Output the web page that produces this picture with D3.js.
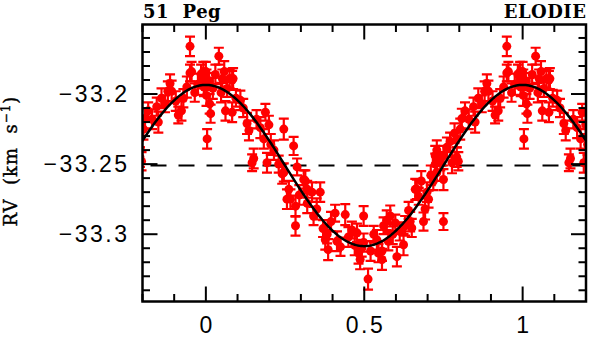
<!DOCTYPE html>
<html><head><meta charset="utf-8">
<script src="https://cdn.jsdelivr.net/npm/d3@7"></script>
<style>body{margin:0;background:#fff}svg{display:block}</style>
</head><body>
<svg id="c" width="600" height="343"></svg>
<script>
// ---- data (orbital phase, radial velocity km/s, error km/s) ----
const phase = [0.000,0.002,0.002,0.004,0.010,0.012,0.015,0.022,0.030,0.041,0.048,0.052,0.058,0.062,0.067,0.075,0.083,0.086,0.083,0.095,
0.109,0.118,0.130,0.136,0.146,0.151,0.160,0.172,0.183,0.188,0.193,0.199,0.205,0.215,0.230,0.241,0.246,0.246,0.256,0.262,
0.267,0.277,0.283,0.283,0.288,0.295,0.309,0.314,0.320,0.320,0.335,0.340,0.350,0.361,0.370,0.377,0.383,0.386,0.395,0.408,
0.414,0.425,0.440,0.450,0.461,0.470,0.477,0.482,0.487,0.492,0.498,0.498,0.512,0.520,0.530,0.540,0.545,0.556,0.556,0.561,
0.571,0.576,0.582,0.590,0.598,0.603,0.612,0.624,0.629,0.640,0.645,0.650,0.661,0.666,0.672,0.680,0.687,0.692,0.698,0.703,
0.710,0.718,0.724,0.724,0.729,0.729,0.740,0.750,0.750,0.750,0.761,0.771,0.777,0.785,0.792,0.792,0.797,0.803,0.808,0.818,
0.830,0.845,0.850,0.860,0.871,0.880,0.887,0.892,0.905,0.913,0.923,0.929,0.940,0.950,0.950,0.955,0.965,0.975,0.985,0.991,
0.992,0.994];
const rv = [-33.184,-33.189,-33.201,-33.232,-33.191,-33.207,-33.214,-33.196,-33.186,-33.173,-33.199,-33.189,-33.184,-33.212,-33.196,-33.189,-33.190,-33.189,-33.213,-33.203,
-33.2045,-33.210,-33.221,-33.226,-33.249,-33.246,-33.218,-33.224,-33.232,-33.213,-33.249,-33.222,-33.236,-33.240,-33.250,-33.257,-33.256,-33.225,-33.275,-33.268,
-33.275,-33.237,-33.280,-33.294,-33.252,-33.272,-33.261,-33.262,-33.278,-33.268,-33.270,-33.287,-33.282,-33.270,-33.296,-33.304,-33.300,-33.311,-33.291,-33.285,
-33.305,-33.309,-33.286,-33.302,-33.297,-33.308,-33.299,-33.3135,-33.318,-33.310,-33.287,-33.306,-33.332,-33.312,-33.300,-33.304,-33.3135,-33.318,-33.312,-33.294,
-33.290,-33.305,-33.287,-33.300,-33.292,-33.316,-33.298,-33.3075,-33.294,-33.283,-33.291,-33.2955,-33.268,-33.268,-33.273,-33.262,-33.291,-33.282,-33.270,-33.275,
-33.258,-33.262,-33.250,-33.244,-33.256,-33.240,-33.248,-33.261,-33.244,-33.291,-33.238,-33.234,-33.249,-33.228,-33.232,-33.245,-33.248,-33.225,-33.2175,-33.212,
-33.218,-33.209,-33.220,-33.203,-33.207,-33.198,-33.1925,-33.198,-33.205,-33.215,-33.212,-33.203,-33.195,-33.166,-33.185,-33.184,-33.199,-33.193,-33.186,-33.190,
-33.184,-33.195];
const err = phase.map((p,i)=>[0.007,0.0065,0.0075,0.007,0.006][i%5]);
// orbital fit parameters (systemic velocity, semi-amplitude)
const gamma = -33.251, K = 0.0575;
const xTicksMajor = [0, 0.5, 1];
const yTicksMajor = [-33.3, -33.25, -33.2];
const xLabels = ["0","0.5","1"];
const yLabels = ["\u221233.3","\u221233.25","\u221233.2"];

// ---- layout ----
const svg = d3.select("#c");
const L=142.5, R=586, T=24.5, B=301.5;
const x = d3.scaleLinear().domain([-0.2,1.2]).range([L,R]);
const y = d3.scaleLinear().domain([-33.348,-33.1504]).range([B,T]);

svg.append("clipPath").attr("id","clip").append("rect")
  .attr("x",L).attr("y",T).attr("width",R-L).attr("height",B-T);

const plot = svg.append("g").attr("clip-path","url(#clip)");

// dashed systemic line
plot.append("line").attr("x1",L).attr("x2",R).attr("y1",y(gamma)).attr("y2",y(gamma))
  .attr("stroke","#000").attr("stroke-width",2).attr("stroke-dasharray","16,12").attr("stroke-dashoffset",-8);

// points, phase-folded with copies
const pts=[];
phase.forEach((p,i)=>{ [-1,0,1].forEach(s=>{ const q=p+s; if(q>=-0.22&&q<=1.22) pts.push({p:q,v:rv[i],e:err[i]}); }); });
const red="#ff0000";
const gp = plot.append("g");
gp.selectAll("path.eb").data(pts).enter().append("path")
  .attr("d",d=>{const xx=x(d.p),y1=y(d.v-d.e),y2=y(d.v+d.e),w=5;
     return `M${xx},${y1}V${y2}M${xx-w},${y1}H${xx+w}M${xx-w},${y2}H${xx+w}`;})
  .attr("stroke",red).attr("stroke-width",2.2).attr("fill","none");
gp.selectAll("circle").data(pts).enter().append("circle")
  .attr("cx",d=>x(d.p)).attr("cy",d=>y(d.v)).attr("r",4.5).attr("fill",red);

// model curve
const curve = d3.range(-0.2,1.2001,0.005).map(p=>[p,gamma+K*Math.cos(2*Math.PI*p)]);
plot.append("path").datum(curve)
  .attr("d",d3.line().x(d=>x(d[0])).y(d=>y(d[1])))
  .attr("fill","none").attr("stroke","#000").attr("stroke-width",2.5);

// ticks
const tk = svg.append("g").attr("stroke","#000").attr("stroke-width",2);
const xMinor = d3.range(-0.2,1.2001,0.1).map(v=>+v.toFixed(2));
xMinor.forEach(v=>{
  const major = xTicksMajor.some(m=>Math.abs(m-v)<1e-6);
  const len = major?15:7.5;
  tk.append("line").attr("x1",x(v)).attr("x2",x(v)).attr("y1",B).attr("y2",B-len);
  tk.append("line").attr("x1",x(v)).attr("x2",x(v)).attr("y1",T).attr("y2",T+len);
});
const yMinor = d3.range(-33.34,-33.151,0.01).map(v=>+v.toFixed(3));
yMinor.forEach(v=>{
  const major = Math.abs(Math.round(v/0.05)*0.05 - v)<1e-6;
  const len = major?15:7.5;
  tk.append("line").attr("y1",y(v)).attr("y2",y(v)).attr("x1",L).attr("x2",L+len);
  tk.append("line").attr("y1",y(v)).attr("y2",y(v)).attr("x1",R).attr("x2",R-len);
});

// frame
svg.append("rect").attr("x",L).attr("y",T).attr("width",R-L).attr("height",B-T)
  .attr("fill","none").attr("stroke","#000").attr("stroke-width",2.5);

// tick labels
const lab = svg.append("g").attr("font-family","'Liberation Sans', Arial, sans-serif")
  .attr("font-size",23).attr("fill","#000").style("letter-spacing","2.5px");
xTicksMajor.forEach((v,i)=>{
  lab.append("text").attr("x",x(v)+1.25).attr("y",333).attr("text-anchor","middle").text(xLabels[i]);
});
yTicksMajor.forEach((v,i)=>{
  lab.append("text").attr("x",129.5).attr("y",y(v)+8).attr("text-anchor","end").text(yLabels[i]);
});

// titles
const serif="'DejaVu Serif', serif";
svg.append("text").attr("x",143).attr("y",18).attr("font-family",serif).attr("font-weight","bold")
  .attr("font-size",18).style("white-space","pre").style("letter-spacing","0.5px").text("51  Peg");
svg.append("text").attr("x",586.5).attr("y",18).attr("font-family",serif).attr("font-weight","bold")
  .attr("font-size",18).attr("text-anchor","end").style("letter-spacing","0.5px").text("ELODIE");

// y-axis label
const yl = svg.append("text").attr("transform",`translate(17,${(T+B)/2 - 2}) rotate(-90)`)
  .attr("text-anchor","middle").attr("font-family",serif).attr("font-size",18)
  .attr("stroke","#000").attr("stroke-width",0.4)
  .style("white-space","pre").style("letter-spacing","1px");
yl.append("tspan").text("RV  (km  s");
yl.append("tspan").attr("font-size",12).attr("dy",-7).text("\u22121");
yl.append("tspan").attr("dy",7).text(")");
</script>
</body></html>
